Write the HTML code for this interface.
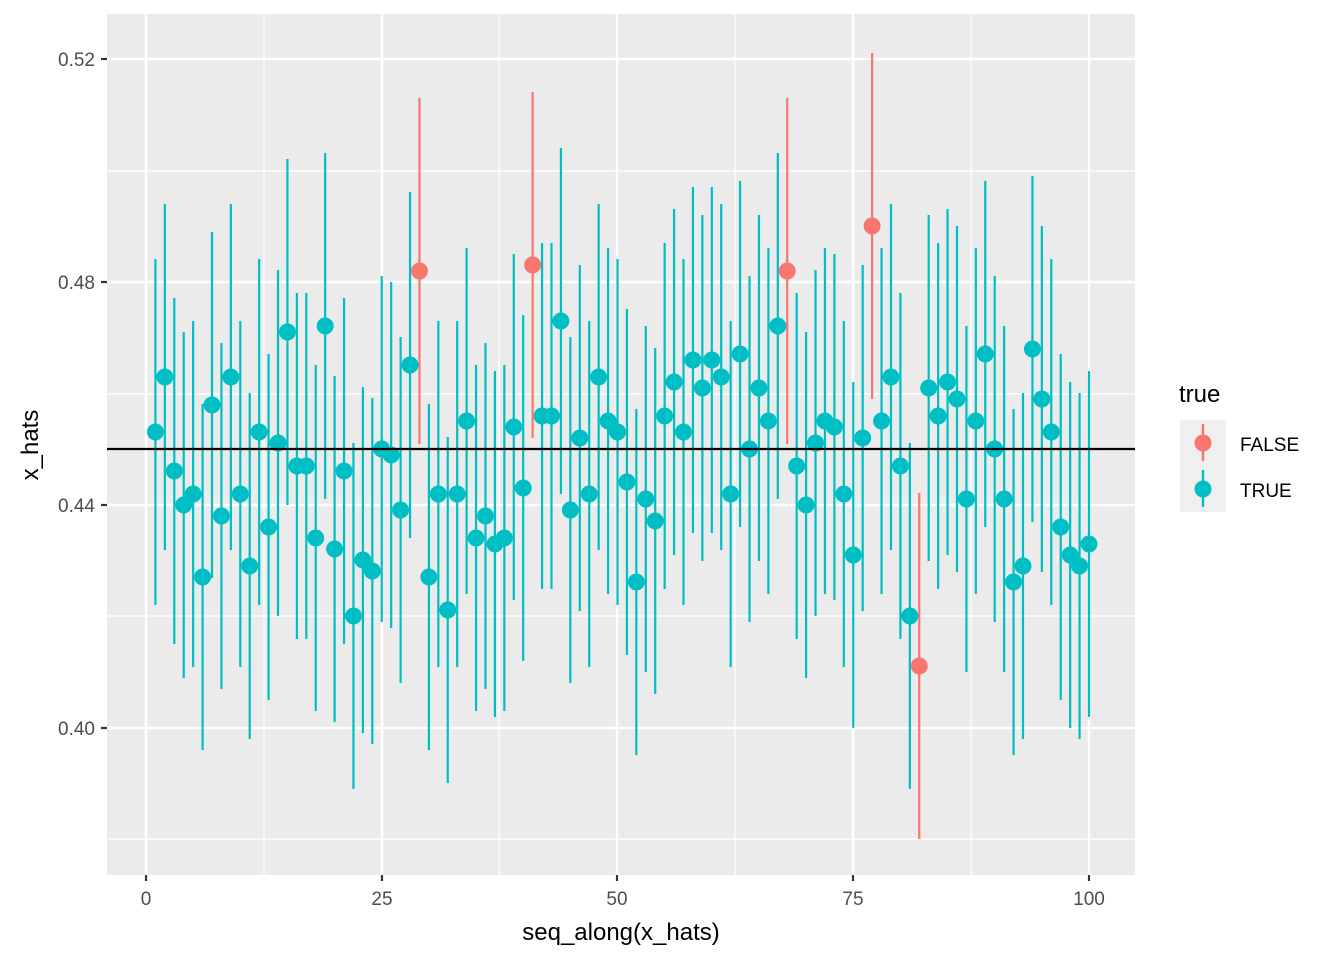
<!DOCTYPE html>
<html><head><meta charset="utf-8"><style>html,body{margin:0;padding:0;background:#fff}svg{display:block}text{font-family:"Liberation Sans",Arial,sans-serif}</style></head>
<body>
<svg id="s" width="1344" height="960" viewBox="0 0 1344 960" xmlns="http://www.w3.org/2000/svg">
<rect x="0" y="0" width="1344" height="960" fill="#fff"/>
<rect x="107" y="14" width="1028" height="861" fill="#EBEBEB"/>
<g stroke="#fff" stroke-width="1.2">
<line x1="107" x2="1135" y1="839" y2="839"/><line x1="107" x2="1135" y1="616" y2="616"/><line x1="107" x2="1135" y1="394" y2="394"/><line x1="107" x2="1135" y1="171" y2="171"/>
<line y1="14" y2="875" x1="264" x2="264"/><line y1="14" y2="875" x1="499" x2="499"/><line y1="14" y2="875" x1="735" x2="735"/><line y1="14" y2="875" x1="971" x2="971"/>
</g>
<g stroke="#fff" stroke-width="2.4">
<line x1="107" x2="1135" y1="728" y2="728"/><line x1="107" x2="1135" y1="505" y2="505"/><line x1="107" x2="1135" y1="282" y2="282"/><line x1="107" x2="1135" y1="59" y2="59"/>
<line y1="14" y2="875" x1="146" x2="146"/><line y1="14" y2="875" x1="382" x2="382"/><line y1="14" y2="875" x1="617" x2="617"/><line y1="14" y2="875" x1="853" x2="853"/><line y1="14" y2="875" x1="1089" x2="1089"/>
</g>
<g id="d"></g>
<line x1="107" x2="1135" y1="449" y2="449" stroke="#000" stroke-width="2.2"/>
<g stroke="#333" stroke-width="2.2">
<line x1="101" x2="107" y1="728" y2="728"/><line x1="101" x2="107" y1="505" y2="505"/><line x1="101" x2="107" y1="282" y2="282"/><line x1="101" x2="107" y1="59" y2="59"/>
<line y1="875" y2="881" x1="146" x2="146"/><line y1="875" y2="881" x1="382" x2="382"/><line y1="875" y2="881" x1="617" x2="617"/><line y1="875" y2="881" x1="853" x2="853"/><line y1="875" y2="881" x1="1089" x2="1089"/>
</g>
<g fill="#4D4D4D" font-size="19" text-anchor="end">
<text x="95" y="735">0.40</text><text x="95" y="512">0.44</text><text x="95" y="289">0.48</text><text x="95" y="66">0.52</text>
</g>
<g fill="#4D4D4D" font-size="19" text-anchor="middle">
<text x="146" y="905">0</text><text x="382" y="905">25</text><text x="617" y="905">50</text><text x="853" y="905">75</text><text x="1089" y="905">100</text>
</g>
<text x="621" y="940" font-size="24" text-anchor="middle" fill="#000">seq_along(x_hats)</text>
<text transform="translate(38,445) rotate(-90)" font-size="24" text-anchor="middle" fill="#000">x_hats</text>
<text x="1179" y="402" font-size="24" fill="#000">true</text>
<rect x="1180" y="420" width="46" height="92" fill="#EBEBEB" opacity="0.8"/>
<line x1="1203" x2="1203" y1="424" y2="461" stroke="#F8766D" stroke-width="2.4"/><circle cx="1203" cy="443" r="8.5" fill="#F8766D"/>
<line x1="1203" x2="1203" y1="470" y2="507" stroke="#00BFC4" stroke-width="2.4"/><circle cx="1203" cy="489" r="8.5" fill="#00BFC4"/>
<text x="1240" y="451" font-size="19" fill="#000">FALSE</text>
<text x="1240" y="497" font-size="19" fill="#000">TRUE</text>
</svg>
<script>
var ys=[432,377,471,505,494,577,405,516,377,494,566,432,527,443,332,466,466,538,326,549,471,616,560,571,449,455,510,365,271,577,494,610,494,421,538,516,544,538,427,488,265,416,416,321,510,438,494,377,421,432,482,582,499,521,416,382,432,360,388,360,377,494,354,449,388,421,326,271,466,505,443,421,427,494,555,438,226,421,377,466,616,666,388,416,382,399,499,421,354,449,499,582,566,349,399,432,527,555,566,544];
var F={29:1,41:1,68:1,77:1,82:1};
var g=document.getElementById('d'),h='';
for(var i=0;i<100;i++){var n=i+1,x=146+n*9.43,y=ys[i],c=F[n]?'#F8766D':'#00BFC4';
h+='<line x1="'+x+'" x2="'+x+'" y1="'+(y-173)+'" y2="'+(y+173)+'" stroke="'+c+'" stroke-width="2.2"/>';}
for(var i=0;i<100;i++){var n=i+1,x=146+n*9.43,y=ys[i],c=F[n]?'#F8766D':'#00BFC4';
h+='<circle cx="'+x+'" cy="'+y+'" r="8.5" fill="'+c+'"/>';}
g.innerHTML=h;
</script>
</body></html>
